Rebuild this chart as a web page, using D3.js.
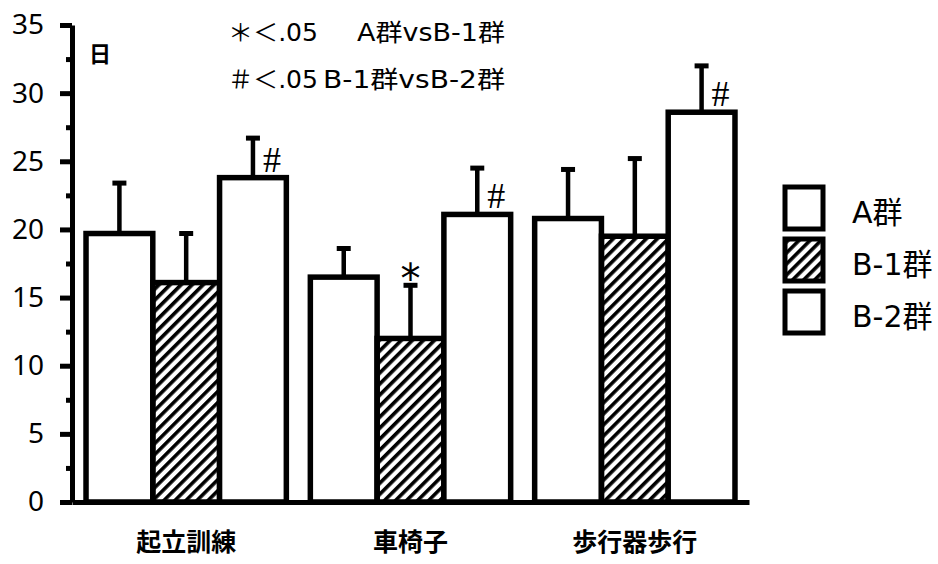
<!DOCTYPE html>
<html>
<head>
<meta charset="utf-8">
<script src="https://cdn.jsdelivr.net/npm/d3@7"></script>
<style>
  body { margin: 0; background: #fff; }
  svg { display: block; font-family: "Noto Sans CJK JP", "Noto Sans", sans-serif; }
</style>
</head>
<body>
<div id="chart"></div>
<script>
// categories and series
const categories = ["起立訓練", "車椅子", "歩行器歩行"];
const seriesNames = ["A群", "B-1群", "B-2群"];

// mean days per group
const meanA  = [19.7, 16.5, 20.8];
const meanB1 = [16.1, 12.0, 19.5];
const meanB2 = [23.8, 21.1, 28.6];

// upper error (SD)
const sdA  = [3.7, 2.1, 3.6];
const sdB1 = [3.6, 3.9, 5.7];
const sdB2 = [2.9, 3.4, 3.4];

// significance marks: [category index, series index, symbol]
const sigMarks = [[0, 2, "#"], [1, 1, "*"], [1, 2, "#"], [2, 2, "#"]];

const yTicks = [0, 5, 10, 15, 20, 25, 30, 35];
const yMinorTicks = [2.5, 7.5, 12.5, 17.5, 22.5, 27.5, 32.5];

const noteLines = [["＊＜.05", "A群vsB-1群"], ["＃＜.05", "B-1群vsB-2群"]];
const unitLabel = "日";

const width = 938, height = 564;
const means = [meanA, meanB1, meanB2];
const sds = [sdA, sdB1, sdB2];

const svg = d3.select("#chart").append("svg")
    .attr("width", width)
    .attr("height", height);

// diagonal hatch
const defs = svg.append("defs");
defs.append("pattern")
    .attr("id", "hatch")
    .attr("patternUnits", "userSpaceOnUse")
    .attr("width", 7.8)
    .attr("height", 7.8)
    .attr("patternTransform", "rotate(45)")
    .append("rect")
    .attr("x", 0).attr("y", 0)
    .attr("width", 3.6).attr("height", 7.8)
    .attr("fill", "#000");

const fills = ["#fff", "url(#hatch)", "#fff"];

const y = d3.scaleLinear().domain([0, 35]).range([502, 25]);
const x0 = d3.scaleBand()
    .domain(categories)
    .range([72, 749])
    .paddingInner(0.107)
    .paddingOuter(0.0625);
const x1 = d3.scaleBand()
    .domain(seriesNames)
    .range([0, x0.bandwidth()]);

const barData = [];
categories.forEach((c, ci) => {
    seriesNames.forEach((s, si) => {
        barData.push({cat: c, ser: s, si: si, v: means[si][ci], sd: sds[si][ci]});
    });
});
const barMid = d => x0(d.cat) + x1(d.ser) + x1.bandwidth() / 2;

// error bars (drawn under the bars so the stem starts at the bar top)
const err = svg.append("g");
err.selectAll("line.stem")
    .data(barData)
    .enter().append("line")
    .attr("x1", barMid)
    .attr("x2", barMid)
    .attr("y1", d => y(d.v))
    .attr("y2", d => y(d.v + d.sd))
    .attr("stroke", "#000")
    .attr("stroke-width", 4.5);
err.selectAll("line.cap")
    .data(barData)
    .enter().append("line")
    .attr("x1", d => barMid(d) - 7)
    .attr("x2", d => barMid(d) + 7)
    .attr("y1", d => y(d.v + d.sd))
    .attr("y2", d => y(d.v + d.sd))
    .attr("stroke", "#000")
    .attr("stroke-width", 5);

svg.append("g").selectAll("rect")
    .data(barData)
    .enter().append("rect")
    .attr("x", d => x0(d.cat) + x1(d.ser))
    .attr("y", d => y(d.v))
    .attr("width", x1.bandwidth())
    .attr("height", d => y(0) - y(d.v))
    .attr("fill", d => fills[d.si])
    .attr("stroke", "#000")
    .attr("stroke-width", 5.5);

// significance symbols
svg.append("g").selectAll("text")
    .data(sigMarks)
    .enter().append("text")
    .attr("x", d => {
        const cx = x0(categories[d[0]]) + x1(seriesNames[d[1]]) + x1.bandwidth() / 2;
        return d[2] === "#" ? cx + 19 : cx;
    })
    .attr("y", d => {
        const v = means[d[1]][d[0]];
        return d[2] === "#" ? y(v) - 6 : y(v + sds[d[1]][d[0]]) + 8;
    })
    .attr("text-anchor", "middle")
    .attr("font-family", d => d[2] === "#" ? "Liberation Serif, serif" : "DejaVu Sans, sans-serif")
    .attr("font-size", d => d[2] === "#" ? 36 : 40)
    .text(d => d[2]);

// y axis
const yAxis = svg.append("g")
    .attr("transform", "translate(72,0)")
    .call(d3.axisLeft(y).tickValues(yTicks).tickSize(12).tickSizeOuter(0).tickPadding(16));
yAxis.select(".domain").attr("stroke-width", 5).attr("stroke", "#000");
yAxis.selectAll(".tick line").attr("stroke-width", 5).attr("stroke", "#000");
yAxis.selectAll(".tick text")
    .attr("font-size", 28)
    .attr("font-family", "Noto Sans, sans-serif")
    .attr("fill", "#000");

const yMinor = svg.append("g")
    .attr("transform", "translate(72,0)")
    .call(d3.axisLeft(y).tickValues(yMinorTicks).tickSize(6).tickSizeOuter(0).tickFormat(""));
yMinor.select(".domain").remove();
yMinor.selectAll(".tick line").attr("stroke-width", 5).attr("stroke", "#000");

// x axis
const xAxis = svg.append("g")
    .attr("transform", "translate(0,502)")
    .call(d3.axisBottom(x0).tickSize(0).tickSizeOuter(0).tickPadding(31));
xAxis.select(".domain").attr("stroke-width", 5).attr("stroke", "#000");
xAxis.selectAll(".tick text")
    .attr("font-size", 25)
    .attr("font-weight", 700)
    .attr("font-family", "Noto Sans CJK JP, sans-serif")
    .attr("fill", "#000");

// unit
svg.append("text")
    .attr("x", 100).attr("y", 62)
    .attr("text-anchor", "middle")
    .attr("font-size", 22)
    .attr("font-weight", 700)
    .text(unitLabel);

// note lines
const noteFont = "DejaVu Sans, Noto Sans CJK JP, sans-serif";
noteLines.forEach((ln, i) => {
    const ty = 41 + i * 47;
    svg.append("text")
        .attr("x", 228).attr("y", ty)
        .attr("font-size", 24)
        .attr("font-family", noteFont)
        .attr("textLength", 90)
        .attr("lengthAdjust", "spacingAndGlyphs")
        .text(ln[0]);
    svg.append("text")
        .attr("x", i === 0 ? 357 : 323).attr("y", ty)
        .attr("font-size", 24)
        .attr("font-family", noteFont)
        .attr("textLength", i === 0 ? 148 : 182)
        .attr("lengthAdjust", "spacingAndGlyphs")
        .text(ln[1]);
});

// legend
const legend = svg.append("g");
const ly = d3.scaleBand().domain(seriesNames).range([183, 339]);
legend.selectAll("rect")
    .data(seriesNames)
    .enter().append("rect")
    .attr("x", 785)
    .attr("y", d => ly(d) + 4)
    .attr("width", 38)
    .attr("height", 42)
    .attr("fill", (d, i) => fills[i])
    .attr("stroke", "#000")
    .attr("stroke-width", 5);
legend.selectAll("text")
    .data(seriesNames)
    .enter().append("text")
    .attr("x", 852)
    .attr("y", d => ly(d) + ly.bandwidth() / 2 + 14)
    .attr("font-size", 30)
    .attr("font-family", "DejaVu Sans, Noto Sans CJK JP, sans-serif")
    .text(d => d);
</script>
</body>
</html>
